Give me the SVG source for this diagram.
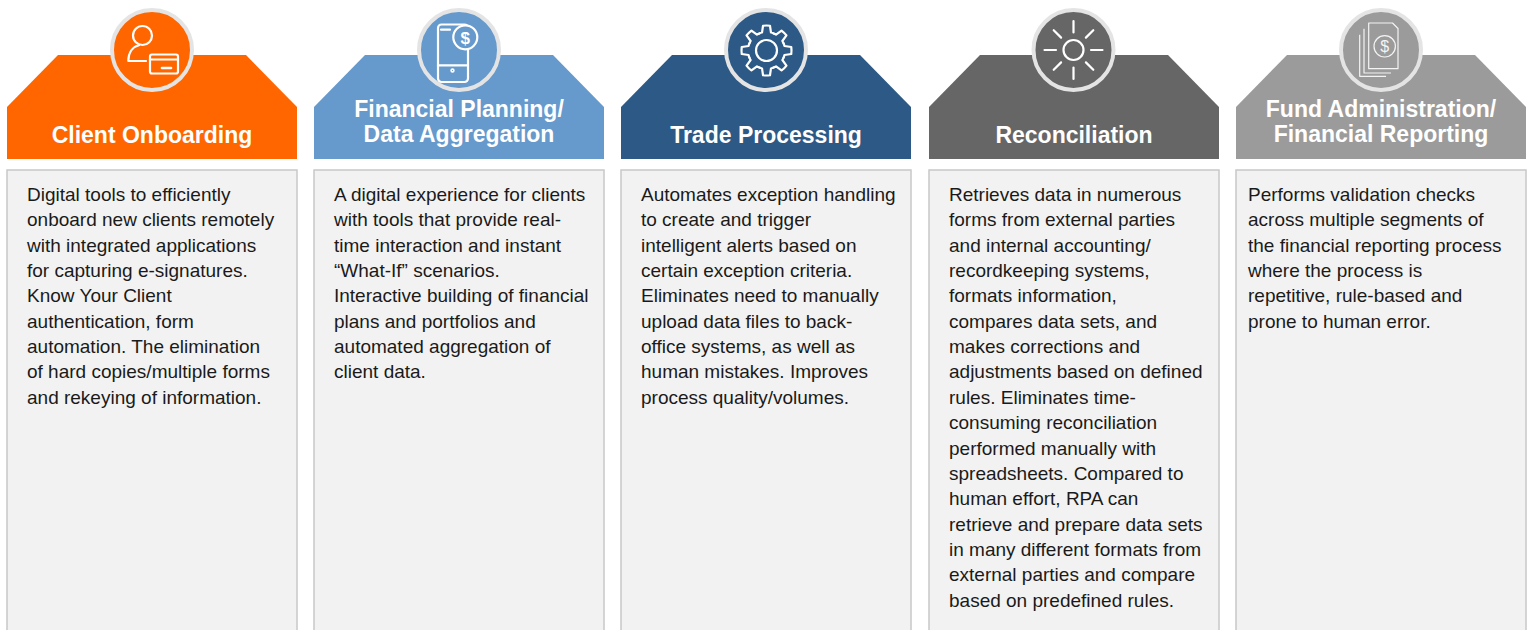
<svg xmlns="http://www.w3.org/2000/svg" xmlns:xlink="http://www.w3.org/1999/xlink" width="1533" height="630" viewBox="0 0 1533 630">
<style>
.box{fill:#f2f2f2;stroke:#c8c8c8;stroke-width:1.5}
.ring{stroke:#e4e4e4;stroke-width:4}
.title{font-family:"Liberation Sans",Arial,sans-serif;font-weight:bold;font-size:23px;fill:#ffffff;text-anchor:middle}
.body{font-family:"Liberation Sans",Arial,sans-serif;font-size:19px;fill:#1a1a1a}
.ic{fill:none;stroke:#ffffff;stroke-width:2.2;stroke-linecap:round;stroke-linejoin:round}
.ict{fill:none;stroke:#f4f4f4;stroke-width:1.2;stroke-linejoin:round}
.orange{fill:#ff6600}.lblue{fill:#6699cc}.dblue{fill:#2c5985}.dgrey{fill:#666666}.lgrey{fill:#9b9b9b}
</style>
<defs>
<path id="hdr" d="M0 107 L51 55 L239 55 L290 107 L290 159 L0 159 Z"/>
<path id="tooth" d="M-7.08 -17.09 A18.5 18.5 0 0 1 -4.48 -17.95 L-3.48 -24.76 A25 25 0 0 1 3.48 -24.76 L4.48 -17.95 A18.5 18.5 0 0 1 7.08 -17.09"/>
</defs>

<g id="client-onboarding">
<use href="#hdr" xlink:href="#hdr" x="7" class="orange"/>
<circle cx="152" cy="50" r="40" class="orange ring"/>
<g class="ic">
<circle cx="142.5" cy="35.5" r="9.5"/>
<path d="M139 45.2 C132.5 46.8 128.3 52.5 128.3 61 L146 61"/>
<rect x="150" y="54.5" width="28" height="19" rx="2"/>
<path d="M150 59.5 H178"/>
<path d="M162 68 H171" stroke-width="2.6"/>
</g>
<text class="title" x="152" y="142.5">Client Onboarding</text>
<rect class="box" x="7" y="170" width="290" height="470"/>
<text class="body" x="27" y="201">
<tspan x="27" dy="0">Digital tools to efficiently</tspan>
<tspan x="27" dy="25.35">onboard new clients remotely</tspan>
<tspan x="27" dy="25.35">with integrated applications</tspan>
<tspan x="27" dy="25.35">for capturing e-signatures.</tspan>
<tspan x="27" dy="25.35">Know Your Client</tspan>
<tspan x="27" dy="25.35">authentication, form</tspan>
<tspan x="27" dy="25.35">automation. The elimination</tspan>
<tspan x="27" dy="25.35">of hard copies/multiple forms</tspan>
<tspan x="27" dy="25.35">and rekeying of information.</tspan>
</text>
</g>

<g id="financial-planning">
<use href="#hdr" xlink:href="#hdr" x="314" class="lblue"/>
<circle cx="459" cy="50" r="40" class="lblue ring"/>
<g class="ic">
<rect x="438" y="24.5" width="30" height="57.5" rx="3.5"/>
<path d="M441 29.7 H450"/>
<path d="M438 65.3 H468"/>
<circle cx="452.5" cy="70.5" r="1.4" stroke-width="1.6"/>
<circle cx="465.3" cy="37.3" r="12" fill="#6699cc"/>
</g>
<text x="465.3" y="43.5" font-family="Liberation Sans, Arial, sans-serif" font-weight="bold" font-size="17" fill="#ffffff" text-anchor="middle">$</text>
<text class="title" x="459" y="116.5">Financial Planning/</text>
<text class="title" x="459" y="142">Data Aggregation</text>
<rect class="box" x="314" y="170" width="290" height="470"/>
<text class="body" x="334" y="201">
<tspan x="334" dy="0">A digital experience for clients</tspan>
<tspan x="334" dy="25.35">with tools that provide real-</tspan>
<tspan x="334" dy="25.35">time interaction and instant</tspan>
<tspan x="334" dy="25.35">“What-If” scenarios.</tspan>
<tspan x="334" dy="25.35">Interactive building of financial</tspan>
<tspan x="334" dy="25.35">plans and portfolios and</tspan>
<tspan x="334" dy="25.35">automated aggregation of</tspan>
<tspan x="334" dy="25.35">client data.</tspan>
</text>
</g>

<g id="trade-processing">
<use href="#hdr" xlink:href="#hdr" x="621" class="dblue"/>
<circle cx="766" cy="50" r="40" class="dblue ring"/>
<g class="ic" transform="translate(766.5 50.5)">
<use href="#tooth" xlink:href="#tooth"/>
<use href="#tooth" xlink:href="#tooth" transform="rotate(45)"/>
<use href="#tooth" xlink:href="#tooth" transform="rotate(90)"/>
<use href="#tooth" xlink:href="#tooth" transform="rotate(135)"/>
<use href="#tooth" xlink:href="#tooth" transform="rotate(180)"/>
<use href="#tooth" xlink:href="#tooth" transform="rotate(225)"/>
<use href="#tooth" xlink:href="#tooth" transform="rotate(270)"/>
<use href="#tooth" xlink:href="#tooth" transform="rotate(315)"/>
<circle cx="0" cy="0" r="10.5"/>
</g>
<text class="title" x="766" y="142.5">Trade Processing</text>
<rect class="box" x="621" y="170" width="290" height="470"/>
<text class="body" x="641" y="201">
<tspan x="641" dy="0">Automates exception handling</tspan>
<tspan x="641" dy="25.35">to create and trigger</tspan>
<tspan x="641" dy="25.35">intelligent alerts based on</tspan>
<tspan x="641" dy="25.35">certain exception criteria.</tspan>
<tspan x="641" dy="25.35">Eliminates need to manually</tspan>
<tspan x="641" dy="25.35">upload data files to back-</tspan>
<tspan x="641" dy="25.35">office systems, as well as</tspan>
<tspan x="641" dy="25.35">human mistakes. Improves</tspan>
<tspan x="641" dy="25.35">process quality/volumes.</tspan>
</text>
</g>

<g id="reconciliation">
<use href="#hdr" xlink:href="#hdr" x="929" class="dgrey"/>
<circle cx="1073.5" cy="50" r="40" class="dgrey ring"/>
<g class="ic" transform="translate(1073.5 50)">
<circle cx="0" cy="0" r="10"/>
<path d="M0 -17.5 V-29 M0 17.5 V29 M-17.5 0 H-29 M17.5 0 H29 M12.4 -12.4 L19.8 -19.8 M-12.4 -12.4 L-19.8 -19.8 M12.4 12.4 L19.8 19.8 M-12.4 12.4 L-19.8 19.8"/>
</g>
<text class="title" x="1074" y="142.5">Reconciliation</text>
<rect class="box" x="929" y="170" width="290" height="470"/>
<text class="body" x="949" y="201">
<tspan x="949" dy="0">Retrieves data in numerous</tspan>
<tspan x="949" dy="25.35">forms from external parties</tspan>
<tspan x="949" dy="25.35">and internal accounting/</tspan>
<tspan x="949" dy="25.35">recordkeeping systems,</tspan>
<tspan x="949" dy="25.35">formats information,</tspan>
<tspan x="949" dy="25.35">compares data sets, and</tspan>
<tspan x="949" dy="25.35">makes corrections and</tspan>
<tspan x="949" dy="25.35">adjustments based on defined</tspan>
<tspan x="949" dy="25.35">rules. Eliminates time-</tspan>
<tspan x="949" dy="25.35">consuming reconciliation</tspan>
<tspan x="949" dy="25.35">performed manually with</tspan>
<tspan x="949" dy="25.35">spreadsheets. Compared to</tspan>
<tspan x="949" dy="25.35">human effort, RPA can</tspan>
<tspan x="949" dy="25.35">retrieve and prepare data sets</tspan>
<tspan x="949" dy="25.35">in many different formats from</tspan>
<tspan x="949" dy="25.35">external parties and compare</tspan>
<tspan x="949" dy="25.35">based on predefined rules.</tspan>
</text>
</g>

<g id="fund-administration">
<use href="#hdr" xlink:href="#hdr" x="1236" class="lgrey"/>
<circle cx="1381" cy="50" r="40" class="lgrey ring"/>
<g class="ict">
<path d="M1364 28.7 V73 H1391"/>
<path d="M1359.7 34.7 V76.3 H1386"/>
<path d="M1368.7 23 H1392.5 L1398 28.5 V68.7 H1368.7 Z"/>
<circle cx="1384.7" cy="46.3" r="10.7"/>
</g>
<text x="1384.7" y="52" font-family="Liberation Sans, Arial, sans-serif" font-size="16" fill="#f4f4f4" text-anchor="middle">$</text>
<text class="title" x="1381" y="116.5">Fund Administration/</text>
<text class="title" x="1381" y="142">Financial Reporting</text>
<rect class="box" x="1236" y="170" width="290" height="470"/>
<text class="body" x="1248" y="201">
<tspan x="1248" dy="0">Performs validation checks</tspan>
<tspan x="1248" dy="25.35">across multiple segments of</tspan>
<tspan x="1248" dy="25.35">the financial reporting process</tspan>
<tspan x="1248" dy="25.35">where the process is</tspan>
<tspan x="1248" dy="25.35">repetitive, rule-based and</tspan>
<tspan x="1248" dy="25.35">prone to human error.</tspan>
</text>
</g>

<g id="connectors"></g>
</svg>
